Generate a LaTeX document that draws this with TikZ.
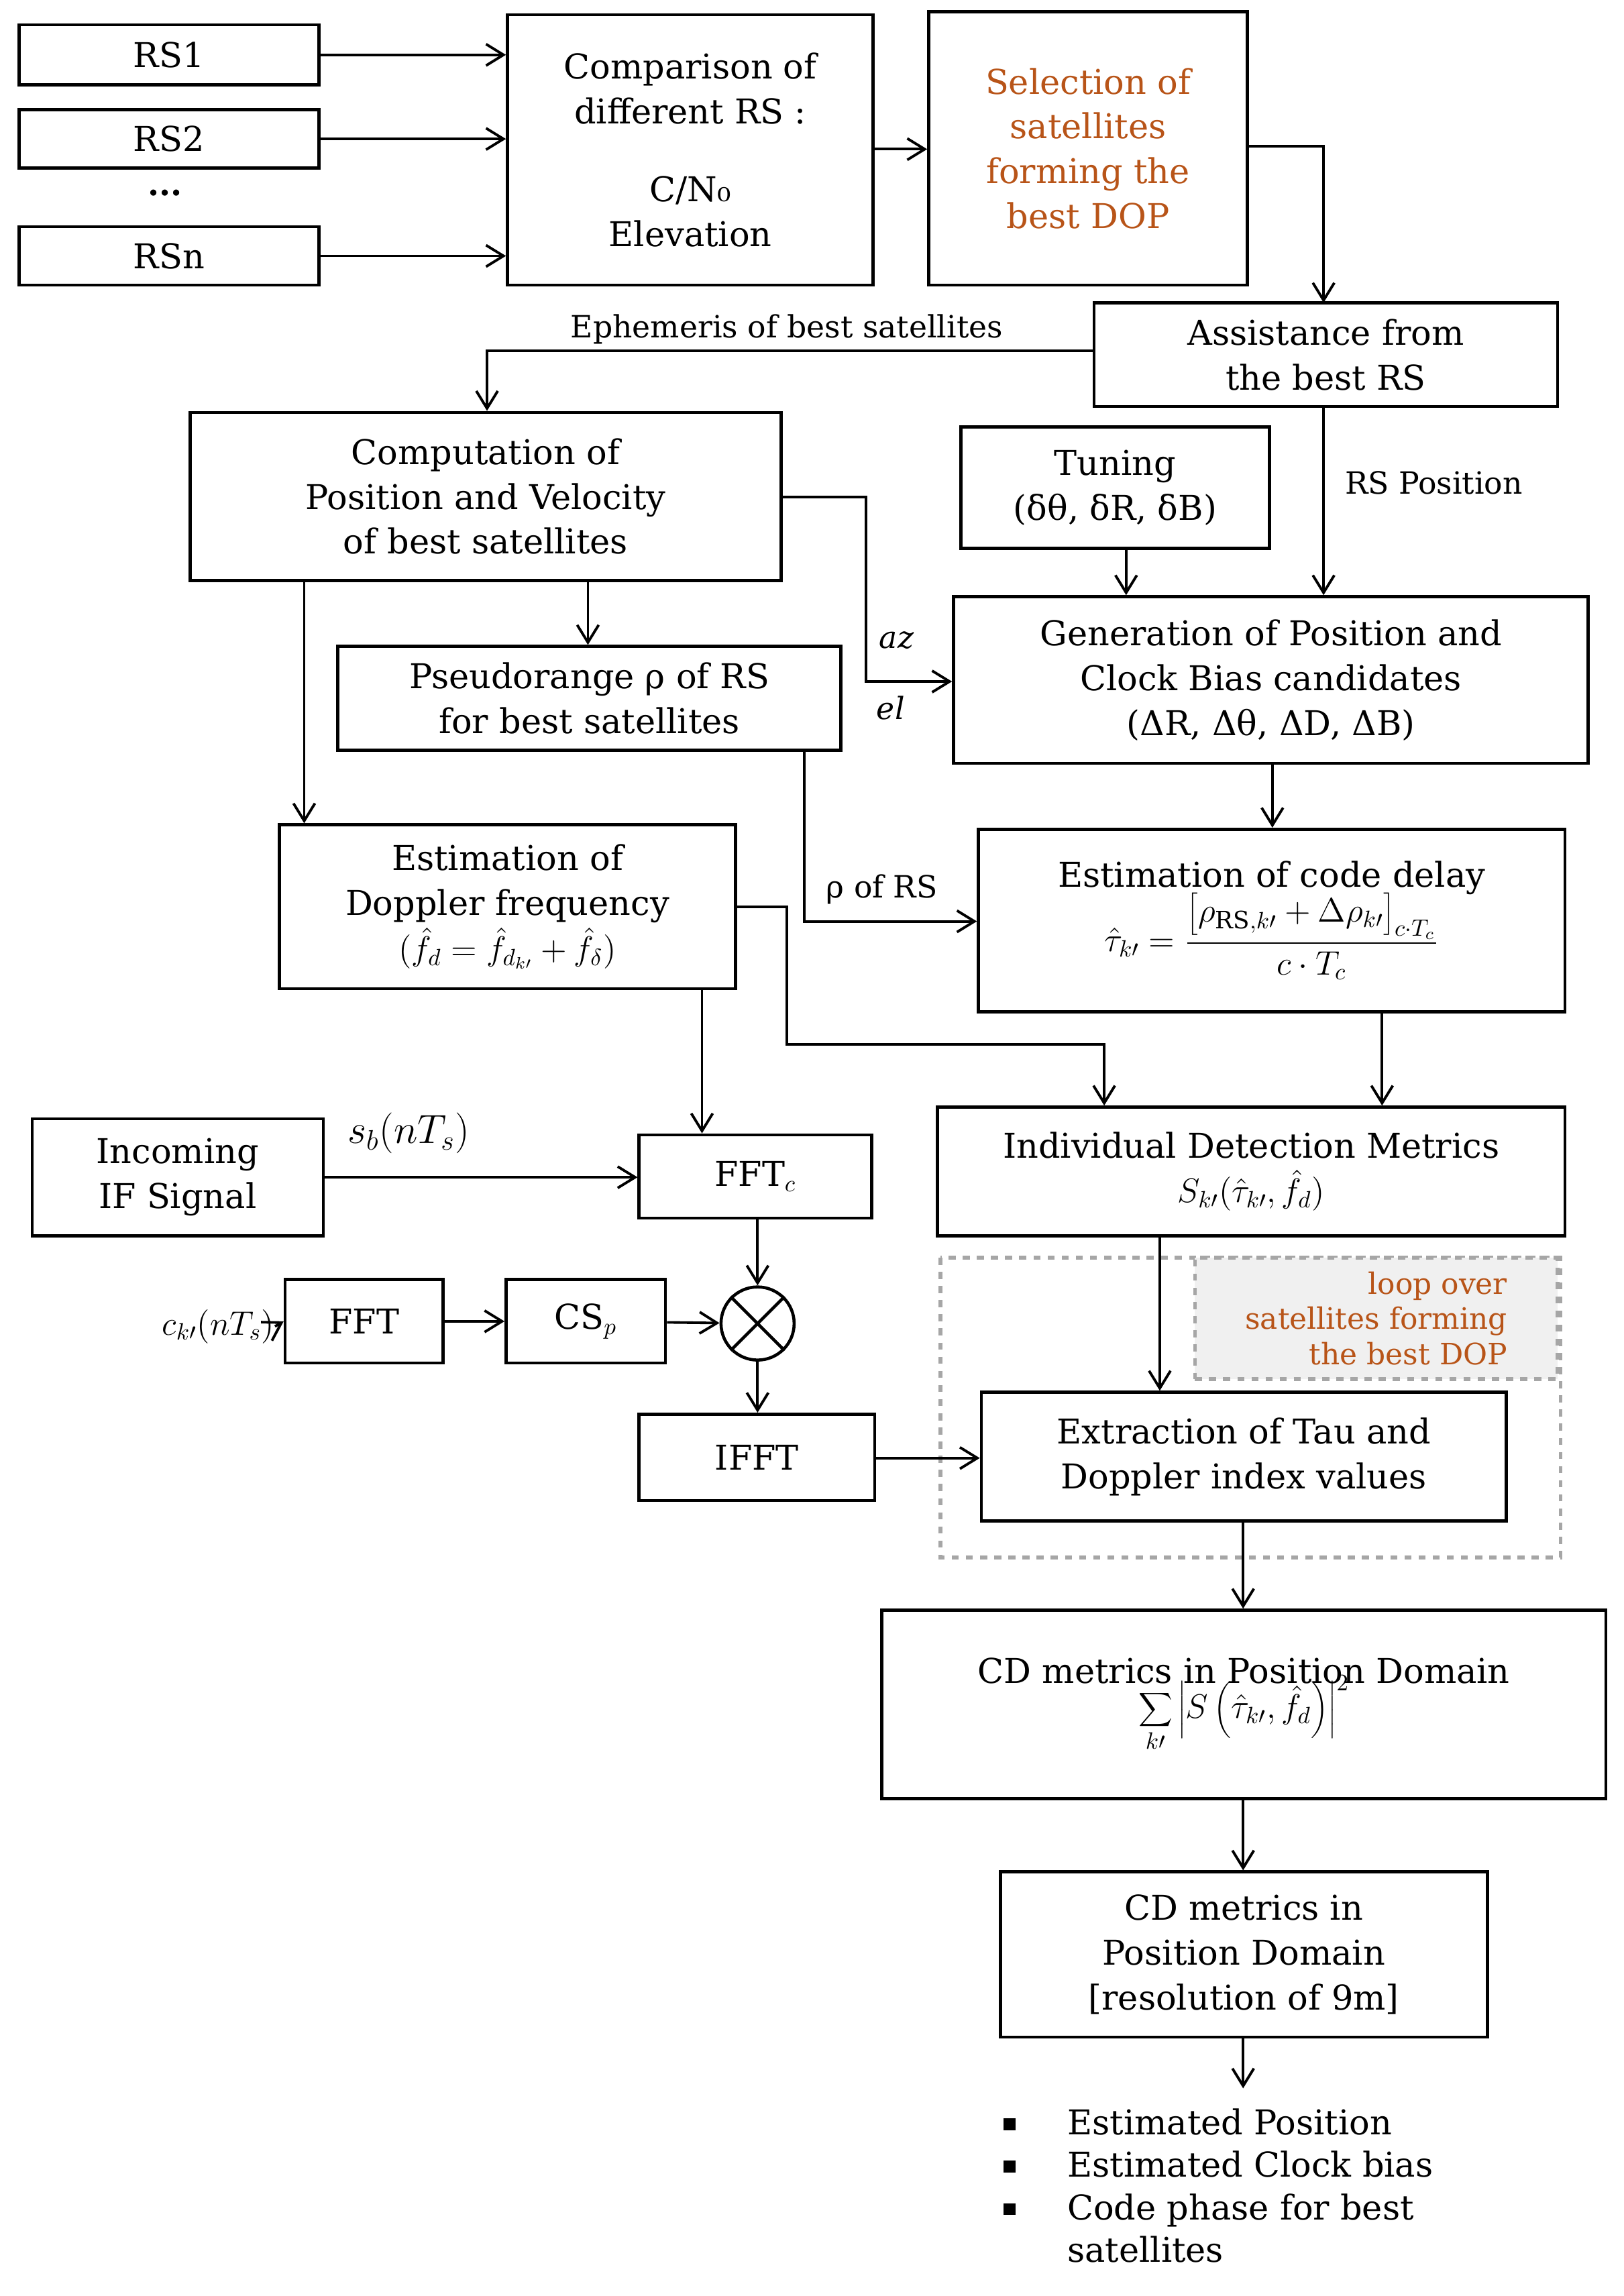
\documentclass[tikz,border=0pt]{standalone}
\usepackage{fontspec}
\setmainfont{DejaVu Serif}
\usetikzlibrary{arrows.meta,calc}
\definecolor{org}{RGB}{184,84,24}
\def\u{0.0218cm}
\newcommand\bx[6]{\node[box,minimum width={(#4-#2)*\u},minimum height={(#5-#3)*\u}] (#1) at ({(#2+#4)/2},{(#3+#5)/2}) {#6};}
\newcommand\bsq{\rule[2pt]{5pt}{5pt}}
\begin{document}
\begin{tikzpicture}[x=0.0218cm,y=-0.0218cm,
  font=\fontsize{14.5}{19}\selectfont,
  box/.style={draw,line width=1.3pt,align=center,inner sep=1pt},
  ar/.style={line width=1.1pt,-{Straight Barb[length=2.6mm,width=3.2mm]}},
  lab/.style={font=\fontsize{13}{16}\selectfont}]
\useasboundingbox (0,0) rectangle (1110,1570);
\bx{rs1}{13}{17}{218}{58}{RS1}
\bx{rs2}{13}{75}{218}{115}{RS2}
\node[font=\bfseries\fontsize{14}{14}\selectfont] (dots) at (113,132) {...};
\bx{rsn}{13}{155}{218}{195}{RSn}
\bx{comp}{347}{10}{597}{195}{Comparison of\\different RS :\\[14pt]C/N₀\\Elevation}
\bx{sel}{635}{8}{853}{195}{\color{org}Selection of\\\color{org}satellites\\\color{org}forming the\\\color{org}best DOP}
\bx{assist}{748}{207}{1065}{278}{Assistance from\\the best RS}
\bx{compu}{130}{282}{534}{397}{Computation of\\Position and Velocity\\of best satellites}
\bx{tun}{657}{292}{868}{375}{Tuning\\(δθ, δR, δB)}
\bx{gen}{652}{408}{1086}{522}{Generation of Position and\\Clock Bias candidates\\(ΔR, Δθ, ΔD, ΔB)}
\bx{pseudo}{231}{442}{575}{513}{Pseudorange ρ of RS\\for best satellites}
\bx{dop}{191}{564}{503}{676}{Estimation of\\Doppler frequency\\$(\hat f_d=\hat f_{d_{k\prime}}+\hat f_{\delta})$}
\bx{code}{669}{567}{1070}{692}{Estimation of code delay\\[-2pt]$\displaystyle \hat\tau_{k\prime}=\frac{\left[\rho_{\mathrm{RS},k\prime}+\Delta\rho_{k\prime}\right]_{c\cdot T_c}}{c\cdot T_c}$}
\bx{indiv}{641}{757}{1070}{845}{Individual Detection Metrics\\$S_{k\prime}(\hat\tau_{k\prime},\hat f_d)$}
\bx{inc}{22}{765}{221}{845}{Incoming\\IF Signal}
\bx{fftc}{437}{776}{596}{833}{FFT$_c$}
\bx{fft}{195}{875}{303}{932}{FFT}
\bx{csp}{346}{875}{455}{932}{CS$_p$}
\node[draw,circle,line width=1.3pt,minimum size={50*\u},inner sep=0pt] (mul) at (518,905) {};
\draw[line width=1.3pt] (mul.north west)--(mul.south east) (mul.north east)--(mul.south west);
\bx{ifft}{437}{967}{598}{1026}{IFFT}
\draw[dashed,line width=1.5pt,gray!70] (643,860) rectangle (1067,1065);
\node[draw=gray!70,dashed,line width=1.5pt,fill=gray!12,minimum width={248*\u},minimum height={83*\u},align=right,inner sep=2pt,font=\fontsize{12.5}{15}\selectfont,text=org] (loop) at (941,901.5) {loop over\\satellites forming\\the best DOP};
\bx{ext}{671}{952}{1030}{1040}{Extraction of Tau and\\Doppler index values}
\bx{cd}{603}{1101}{1098}{1230}{CD metrics in Position Domain\\[-4pt]$\displaystyle\sum_{k\prime}\left|S\left(\hat\tau_{k\prime},\hat f_d\right)\right|^2$}
\bx{cd2}{684}{1280}{1017}{1393}{CD metrics in\\Position Domain\\{[resolution of 9m]}}
\coordinate (outp) at (850,1428);
\node[anchor=north west,align=left,inner sep=0pt] (res) at (686,1438) {%
\begin{tabular}{@{}l@{\hspace{22pt}}l@{}}
\bsq & Estimated Position\\[-1pt]
\bsq & Estimated Clock bias\\[-1pt]
\bsq & Code phase for best\\[-1pt]
 & satellites
\end{tabular}};
\node[anchor=east,inner sep=0pt] (ck) at (188,907) {$c_{k\prime}(nT_s)$};
\node[anchor=west] (sb) at (232,775) {\fontsize{17}{17}\selectfont$s_b(nT_s)$};
% arrows
\draw[ar] (rs1.east) -- (rs1.east -| comp.west);
\draw[ar] (rs2.east) -- (rs2.east -| comp.west);
\draw[ar] (rsn.east) -- (rsn.east -| comp.west);
\draw[ar] (comp.east |- 0,102) -- (sel.west |- 0,102);
\draw[ar] (sel.east |- 0,100) -- (905,100) -- (905,207);
\draw[ar] (assist.west |- 0,240) -- (333,240) -- (compu.north -| 333,0);
\node[lab,anchor=south] at (538,241) {Ephemeris of best satellites};
\draw[ar] (905,278) -- (gen.north -| 905,0);
\node[lab,anchor=west] at (914,330) {RS Position};
\draw[ar] (tun.south -| 770,0) -- (gen.north -| 770,0);
\draw[ar] (compu.east |- 0,340) -- (592,340) -- (592,466) -- (gen.west |- 0,466);
\node[lab] at (613,438) {\itshape az};
\node[lab] at (609,484) {\itshape el};
\draw[ar] (compu.south -| 402,0) -- (pseudo.north -| 402,0);
\draw[ar] (compu.south -| 208,0) -- (dop.north -| 208,0);
\draw[ar] (pseudo.south -| 550,0) -- (550,630) -- (code.west |- 0,630);
\node[lab] at (603,608) {ρ of RS};
\draw[ar] (gen.south -| 870,0) -- (code.north -| 870,0);
\draw[ar] (dop.south -| 480,0) -- (fftc.north -| 480,0);
\draw[ar] (dop.east |- 0,620) -- (538,620) -- (538,714) -- (755,714) -- (indiv.north -| 755,0);
\draw[ar] (code.south -| 945,0) -- (indiv.north -| 945,0);
\draw[ar] (inc.east |- 0,805) -- (fftc.west |- 0,805);
\draw[ar] (fftc.south -| mul.north) -- (mul.north);
\draw[ar] (ck.east) -- (fft.west);
\draw[ar] (fft) -- (csp);
\draw[ar] (csp) -- (mul);
\draw[ar] (mul.south) -- (ifft.north -| mul.south);
\draw[ar] (ifft.east |- 0,997) -- (ext.west |- 0,997);
\draw[ar] (indiv.south -| 793,0) -- (ext.north -| 793,0);
\draw[ar] (ext.south -| 850,0) -- (cd.north -| 850,0);
\draw[ar] (cd.south -| 850,0) -- (cd2.north -| 850,0);
\draw[ar] (cd2.south -| 850,0) -- (outp);
\end{tikzpicture}
\end{document}
